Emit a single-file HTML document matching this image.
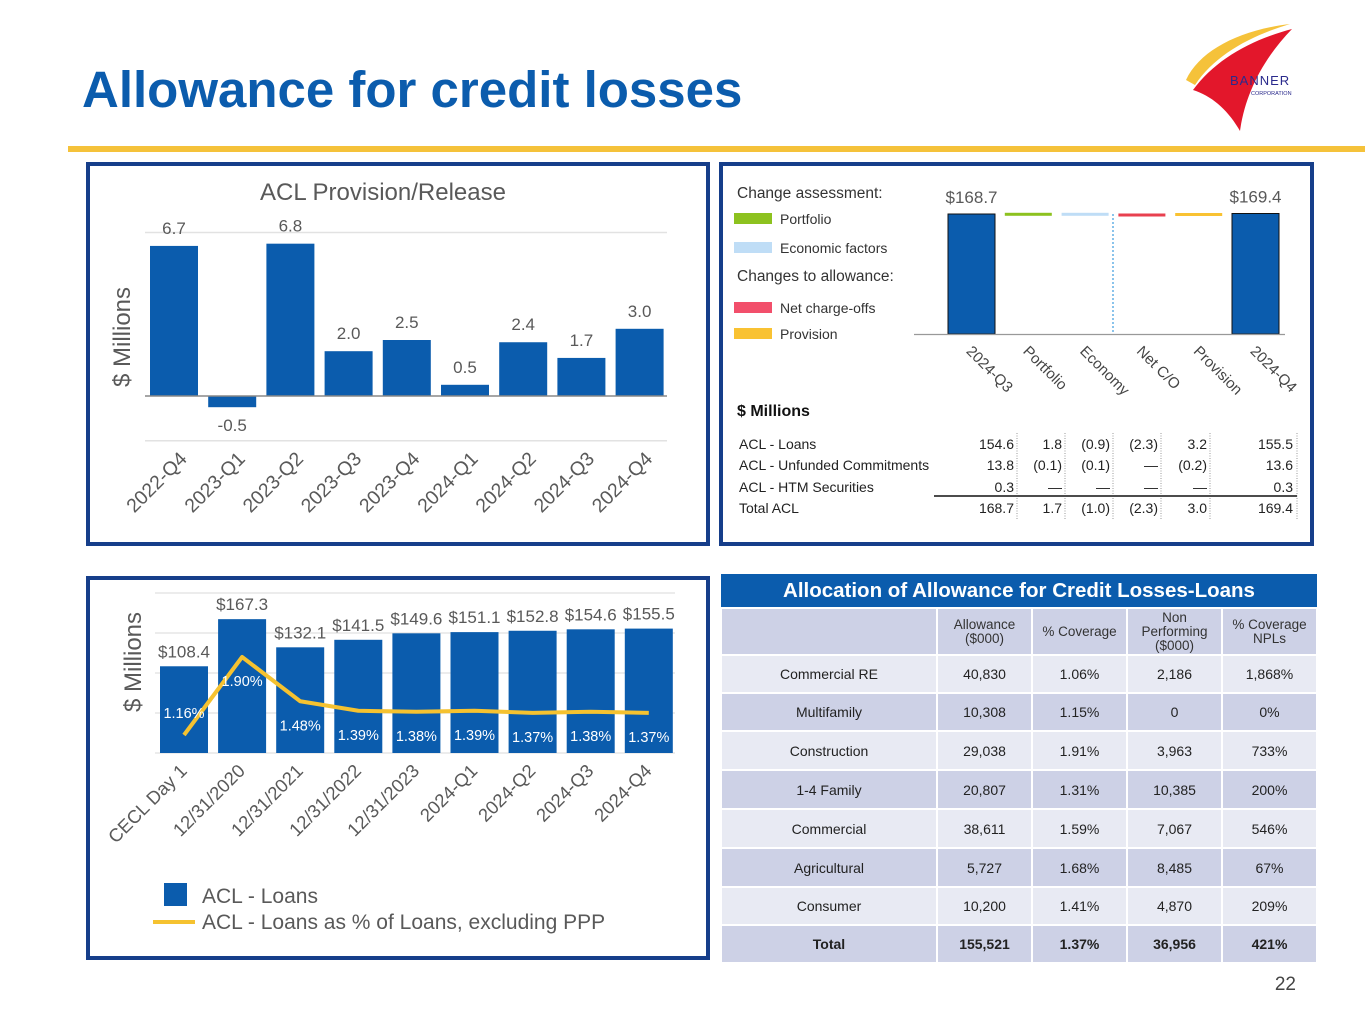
<!DOCTYPE html>
<html><head><meta charset="utf-8">
<style>
body{margin:0;width:1365px;height:1024px;background:#fff;position:relative;overflow:hidden;font-family:"Liberation Sans",sans-serif;}
svg{position:absolute;left:0;top:0}
#tbl{position:absolute;left:720px;top:574px;width:598px;border-collapse:collapse;font-size:14px;color:#222;}
#tbl td,#tbl th{text-align:center;border:2px solid #fff;padding:0;font-weight:normal}
#tbl .hd{background:#0B5CAD;color:#fff;font-weight:bold;font-size:20.5px;height:33px;border:none}
#tbl tr.colh td{background:#CDD1E6;height:45px;font-size:13.5px;line-height:14px;color:#333}
#tbl tr.r0 td{background:#E8EAF3}
#tbl tr.r1 td{background:#CDD1E6}
</style></head><body>
<svg id="svg" width="1365" height="1024" xmlns="http://www.w3.org/2000/svg" font-family="Liberation Sans, sans-serif">
<text x="82" y="107" font-size="51" font-weight="bold" fill="#0B5CAD">Allowance for credit losses</text>
<rect x="68" y="146" width="1297" height="6" fill="#F5C23A"/>
<g>
<path d="M1186,80 C1200,50 1240,30 1290,24 C1250,36 1215,55 1195,85 Z" fill="#F5C23A"/>
<path d="M1193,90 C1215,60 1250,40 1292,29 C1262,60 1245,95 1240,131 C1228,110 1212,96 1193,90 Z" fill="#E3172B"/>
<text x="1230" y="85" font-size="13" fill="#2A2A8C" letter-spacing="1">BANNER</text>
<text x="1251" y="95" font-size="5.5" fill="#2A2A8C">CORPORATION</text>
</g>
<rect x="88" y="164" width="620" height="380" fill="none" stroke="#163E8A" stroke-width="4"/>
<rect x="721" y="164" width="591" height="380" fill="none" stroke="#163E8A" stroke-width="4"/>
<rect x="88" y="578" width="620" height="380" fill="none" stroke="#163E8A" stroke-width="4"/>
<g id="c1"></g><g id="c2"></g><g id="c3"></g>
<text x="1296" y="990" font-size="19" fill="#444" text-anchor="end">22</text>
</svg>
<table id="tbl">
<tr><th colspan="5" class="hd">Allocation of Allowance for Credit Losses-Loans</th></tr>
<tr class="colh"><td style="width:214px"></td><td style="width:93px">Allowance<br>($000)</td><td style="width:93px">% Coverage</td><td style="width:93px">Non<br>Performing<br>($000)</td><td>% Coverage<br>NPLs</td></tr>
<tbody id="tb"></tbody>
</table>
<script>
const NS='http://www.w3.org/2000/svg';
function el(p,t,a,txt){const e=document.createElementNS(NS,t);for(const k in a)e.setAttribute(k,a[k]);if(txt!==undefined)e.textContent=txt;p.appendChild(e);return e;}

// Chart 1 data
const c1Cats=['2022-Q4','2023-Q1','2023-Q2','2023-Q3','2023-Q4','2024-Q1','2024-Q2','2024-Q3','2024-Q4'];
const c1Vals=[6.7,-0.5,6.8,2.0,2.5,0.5,2.4,1.7,3.0];
const c1Grid=[-2,7.3];
// Chart 2 data
const wfCats=['2024-Q3','Portfolio','Economy','Net C/O','Provision','2024-Q4'];
const wfStart=168.7;
const wfDeltas=[1.7,-1.0,-2.3,3.0];
const wfEnd=169.4;
const wfColors=['#0B5CAD','#8DC21F','#BFDDF6','#E8404F','#F9C232','#0B5CAD'];
const acRows=['ACL - Loans','ACL - Unfunded Commitments','ACL - HTM Securities','Total ACL'];
const acVals=[['154.6','1.8','(0.9)','(2.3)','3.2','155.5'],['13.8','(0.1)','(0.1)','—','(0.2)','13.6'],['0.3','—','—','—','—','0.3'],['168.7','1.7','(1.0)','(2.3)','3.0','169.4']];
// Chart 3 data
const c3Cats=['CECL Day 1','12/31/2020','12/31/2021','12/31/2022','12/31/2023','2024-Q1','2024-Q2','2024-Q3','2024-Q4'];
const c3Vals=[108.4,167.3,132.1,141.5,149.6,151.1,152.8,154.6,155.5];
const c3Pct=[1.16,1.90,1.48,1.39,1.38,1.39,1.37,1.38,1.37];
const c3Grid=[0,50,100,150,200];
// Table data
const tRows=['Commercial RE','Multifamily','Construction','1-4 Family','Commercial','Agricultural','Consumer','Total'];
const tAllow=['40,830','10,308','29,038','20,807','38,611','5,727','10,200','155,521'];
const tCov=['1.06%','1.15%','1.91%','1.31%','1.59%','1.68%','1.41%','1.37%'];
const tNpl=['2,186','0','3,963','10,385','7,067','8,485','4,870','36,956'];
const tNplCov=['1,868%','0%','733%','200%','546%','67%','209%','421%'];

// ---- Chart 1
(function(){
const g=document.getElementById('c1');
const y=v=>396-v*22.4, x=i=>150+i*58.2, bw=48;
el(g,'text',{x:383,y:200,'font-size':24,fill:'#595959','text-anchor':'middle',},'ACL Provision/Release');
el(g,'text',{transform:'translate(130,337) rotate(-90)','font-size':24,fill:'#595959','text-anchor':'middle',},'$ Millions');
c1Grid.forEach(v=>{const l=el(g,'line',{x1:145,x2:667,y1:y(v),y2:y(v),stroke:'#E2E2E2','stroke-width':1.5});

});
c1Vals.forEach((v,i)=>{
 const r=el(g,'rect',{x:x(i),y:Math.min(y(v),y(0)),width:bw,height:Math.abs(y(v)-y(0)),fill:'#0B5CAD'});
 
 
 const t=el(g,'text',{x:x(i)+bw/2,y:v>=0?y(v)-12:y(v)+24,'font-size':17,fill:'#595959','text-anchor':'middle'},v.toFixed(1));
 
 
 const c=x(i)+bw/2+14;
 const lb=el(g,'text',{transform:`translate(${c},460) rotate(-45)`,'font-size':19.5,fill:'#595959','text-anchor':'end'},c1Cats[i]);
 
 
});
const ax=el(g,'line',{x1:145,x2:667,y1:y(0),y2:y(0),stroke:'#888','stroke-width':1.5});


})();

// ---- Chart 2 waterfall
(function(){
const g=document.getElementById('c2');
const y=v=>334-v*(120/168.7), x=i=>948+i*56.8, bw=47;
const lg=[['Change assessment:',null,193],['Portfolio','#8DC21F',219],['Economic factors','#BFDDF6',248],['Changes to allowance:',null,276],['Net charge-offs','#F24F6B',308],['Provision','#F9C232',334]];
lg.forEach(a=>{
 if(a[1]){const s=el(g,'rect',{x:734,y:a[2]-6,width:38,height:11,fill:a[1]});
 
 
 const t=el(g,'text',{x:780,y:a[2]+5,'font-size':14,fill:'#333'},a[0]);
 
 }
 else{const t=el(g,'text',{x:737,y:a[2]+5,'font-size':15.5,fill:'#333'},a[0]);
 
 }
});
let run=wfStart;
const all=[wfStart].concat(wfDeltas).concat([wfEnd]);
all.forEach((v,i)=>{
 let top,bot;
 if(i===0||i===all.length-1){top=y(v);bot=y(0);}
 else{const a=run,b=run+v;run=b;top=y(Math.max(a,b));bot=y(Math.min(a,b));if(bot-top<3)bot=top+3;}
 const r=el(g,'rect',{x:x(i),y:top,width:bw,height:bot-top,fill:wfColors[i],stroke:(i===0||i===all.length-1)?'#111':'none','stroke-width':1});
 
 
 if(i===0||i===all.length-1){const t=el(g,'text',{x:x(i)+bw/2,y:y(v)-11,'font-size':17,fill:'#595959','text-anchor':'middle'},'$'+v.toFixed(1));
 
 }
 const lb=el(g,'text',{transform:`translate(${x(i)+bw/2-6},352) rotate(45)`,'font-size':15,fill:'#444'},wfCats[i]);
 
 
});
const dv=el(g,'line',{x1:1113,x2:1113,y1:214,y2:334,stroke:'#4BA3E0','stroke-width':1.3,'stroke-dasharray':'2,2'});


const base=el(g,'line',{x1:914,x2:1285,y1:334.5,y2:334.5,stroke:'#999','stroke-width':1.2});


const mt=el(g,'text',{x:737,y:416,'font-size':16,fill:'#111','font-weight':'bold'},'$ Millions');


const colR=[1014,1062,1110,1158,1207,1293], sep=[1017,1065,1113,1161,1210,1297], rowY=[449,470,492,513];
sep.forEach(s=>{const l=el(g,'line',{x1:s,x2:s,y1:433,y2:519,stroke:'#999','stroke-width':1,'stroke-dasharray':'1,1.5'});

});
acRows.forEach((r,ri)=>{
 const t=el(g,'text',{x:739,y:rowY[ri],'font-size':14,fill:'#222'},r);
 
 
 acVals[ri].forEach((v,ci)=>{const c=el(g,'text',{x:colR[ci],y:rowY[ri],'font-size':14,fill:'#222','text-anchor':'end'},v);
 
 });
});
const tl=el(g,'line',{x1:934,x2:1297,y1:496,y2:496,stroke:'#111','stroke-width':1.6});


})();

// ---- Chart 3
(function(){
const g=document.getElementById('c3');
const y=v=>753-v*0.8, yp=p=>735-(p-1.16)*105.4, x=i=>160+i*58.1, bw=48;
c3Grid.forEach(v=>{const l=el(g,'line',{x1:155,x2:675,y1:y(v),y2:y(v),stroke:'#E6E6E6','stroke-width':1.5});

});
el(g,'text',{transform:'translate(141,662) rotate(-90)','font-size':24,fill:'#595959','text-anchor':'middle',},'$ Millions');
c3Vals.forEach((v,i)=>{
 const r=el(g,'rect',{x:x(i),y:y(v),width:bw,height:y(0)-y(v),fill:'#0B5CAD'});
 
 
 const t=el(g,'text',{x:x(i)+bw/2,y:y(v)-9,'font-size':17,fill:'#595959','text-anchor':'middle'},'$'+v.toFixed(1));
 
 
 const lb=el(g,'text',{transform:`translate(${x(i)+bw/2+4},772) rotate(-45)`,'font-size':18.5,fill:'#595959','text-anchor':'end'},c3Cats[i]);
 
 
});
const pts=c3Pct.map((p,i)=>(x(i)+bw/2)+','+yp(p)).join(' ');
const pl=el(g,'polyline',{points:pts,fill:'none',stroke:'#F5C230','stroke-width':4,'stroke-linejoin':'round'});


c3Pct.forEach((p,i)=>{
 const ly=i===0?yp(p)-17:yp(p)+29;
 const t=el(g,'text',{x:x(i)+bw/2,y:Math.min(ly,745),'font-size':14.5,fill:'#fff','text-anchor':'middle'},p.toFixed(2)+'%');
 
 
});
const sw=el(g,'rect',{x:164,y:883,width:23,height:23,fill:'#0B5CAD'});


const t1=el(g,'text',{x:202,y:903,'font-size':21,fill:'#595959'},'ACL - Loans');


const ln=el(g,'line',{x1:153,x2:195,y1:922,y2:922,stroke:'#F5C230','stroke-width':4});


const t2=el(g,'text',{x:202,y:929,'font-size':21,fill:'#595959'},'ACL - Loans as % of Loans, excluding PPP');


})();

// ---- Table
(function(){
const tb=document.getElementById('tb');
const hs=[38,38,39,39,39,39,38,38];
tRows.forEach((r,i)=>{
 const tr=document.createElement('tr');
 tr.className=i%2===0?'r0':'r1';
 if(i===tRows.length-1)tr.className='r1';
 
 
 [r,tAllow[i],tCov[i],tNpl[i],tNplCov[i]].forEach(v=>{
  const td=document.createElement('td');td.textContent=v;td.style.height=(hs[i]-2)+'px';
  if(i===tRows.length-1)td.style.fontWeight='bold';
  tr.appendChild(td);});
 tb.appendChild(tr);
});
})();
</script>
</body></html>
